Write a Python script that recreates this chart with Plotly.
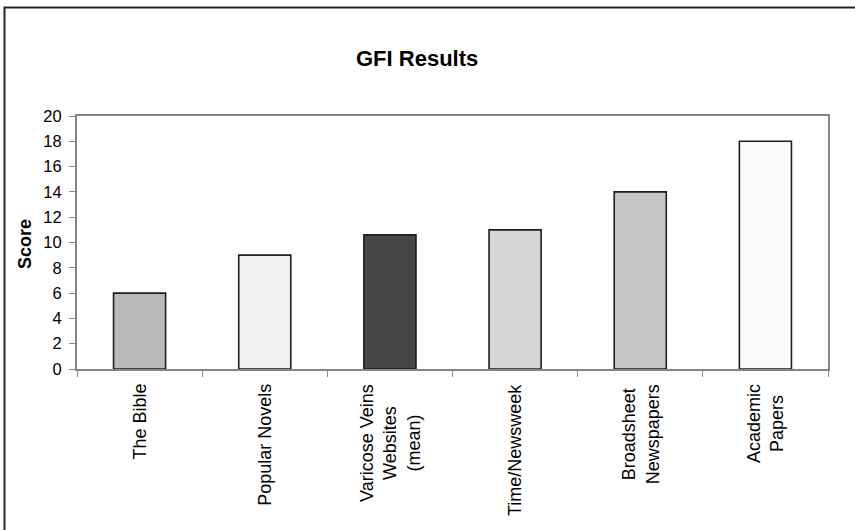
import plotly.graph_objects as go

# GFI (Gunning Fog Index) scores by text source
categories = [
    "The Bible",
    "Popular Novels",
    "Varicose Veins<br>Websites<br>(mean)",
    "Time/Newsweek",
    "Broadsheet<br>Newspapers",
    "Academic<br>Papers",
]
scores = [6, 9, 10.6, 11, 14, 18]
bar_colors = ["#b9b9b9", "#f0f0f0", "#474747", "#d6d6d6", "#c6c6c6", "#fafafa"]
y_ticks = [0, 2, 4, 6, 8, 10, 12, 14, 16, 18, 20]

FONT = "Arial, 'Liberation Sans', sans-serif"
W, H = 855, 530
L, R, T, B = 77, 27, 116, 161
pw, ph = W - L - R, H - T - B


def px_x(x):
    return (x - L) / pw


def px_y(y):
    return (H - B - y) / ph


fig = go.Figure(
    go.Bar(
        x=categories,
        y=scores,
        marker=dict(color=bar_colors, line=dict(color="#1e1e1e", width=1.6)),
        hoverinfo="skip",
    )
)

# category labels, rotated with centred lines
annotations = [
    dict(
        x=c, y=px_y(382), xref="x", yref="paper",
        text=c, textangle=-90, showarrow=False,
        xanchor="center", yanchor="top", align="center",
        font=dict(family=FONT, size=18, color="#000"),
    )
    for c in categories
]
annotations += [
    dict(
        x=px_x(417), y=px_y(58), xref="paper", yref="paper",
        text="<b>GFI Results</b>", showarrow=False,
        xanchor="center", yanchor="middle",
        font=dict(family=FONT, size=22, color="#000"),
    ),
    dict(
        x=px_x(25), y=px_y(244), xref="paper", yref="paper",
        text="<b>Score</b>", textangle=-90, showarrow=False,
        xanchor="center", yanchor="middle",
        font=dict(family=FONT, size=18, color="#000"),
    ),
]

# outer chart frame (left and top edges)
frame = dict(
    type="path", xref="paper", yref="paper",
    path=f"M {px_x(4.5)},{px_y(540)} L {px_x(4.5)},{px_y(7.5)} L {px_x(870)},{px_y(7.5)}",
    line=dict(color="#262626", width=2),
)

fig.update_layout(
    width=W, height=H,
    margin=dict(l=L, r=R, t=T, b=B, pad=0),
    paper_bgcolor="white", plot_bgcolor="white",
    showlegend=False,
    bargap=0.584,
    annotations=annotations,
    shapes=[frame],
    font=dict(family=FONT, color="#000"),
    xaxis=dict(
        showticklabels=False,
        tickson="boundaries", ticks="outside", ticklen=6, tickwidth=1,
        tickcolor="#8a8a8a",
        showline=True, linecolor="#858585", linewidth=2, mirror=True,
        showgrid=False, zeroline=False, fixedrange=True,
    ),
    yaxis=dict(
        range=[0, 20], tickvals=y_ticks, ticktext=[str(v) for v in y_ticks],
        ticks="outside", ticklen=6, tickwidth=1, tickcolor="#8a8a8a",
        ticklabelstandoff=4,
        tickfont=dict(family=FONT, size=16.5, color="#000"),
        showline=True, linecolor="#858585", linewidth=2, mirror=True,
        showgrid=False, zeroline=False, fixedrange=True,
    ),
)

fig.write_html("out.html", config={"displayModeBar": False})
